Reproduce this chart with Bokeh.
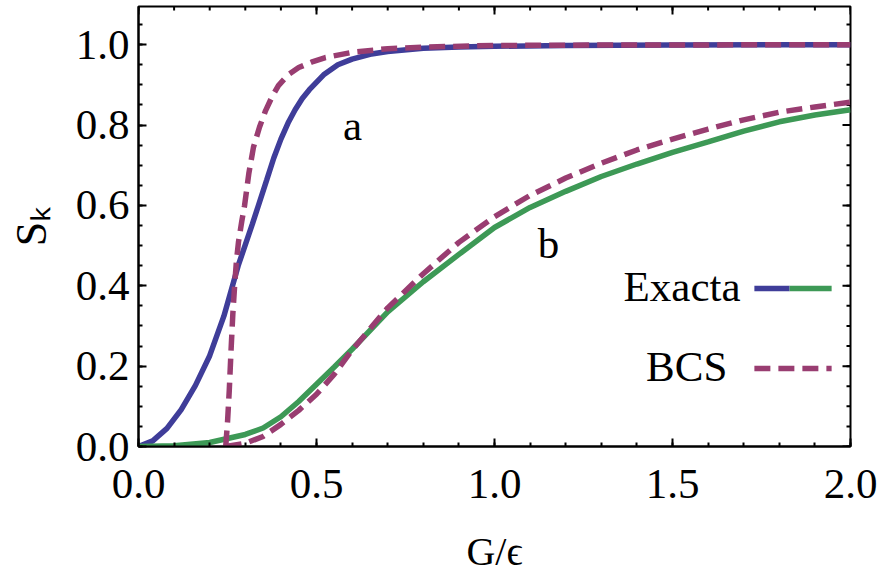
import math
from bokeh.plotting import figure
from bokeh.models import Range1d, FixedTicker, Label, NumeralTickFormatter
from bokeh.embed import file_html
from bokeh.resources import INLINE

# ---- data ----
g_exact_a = [0, 0.04, 0.08, 0.12, 0.16, 0.2, 0.24, 0.28, 0.32, 0.36, 0.38, 0.4, 0.42, 0.44, 0.46,
             0.48, 0.52, 0.56, 0.6, 0.65, 0.7, 0.8, 0.9, 1.0, 1.2, 1.5, 2.0]
s_exact_a = [0, 0.014, 0.045, 0.092, 0.152, 0.226, 0.325, 0.45, 0.554, 0.663, 0.718, 0.765, 0.805,
             0.838, 0.866, 0.888, 0.925, 0.95, 0.964, 0.976, 0.983, 0.991, 0.994, 0.996, 0.998,
             0.999, 1.0]

g_bcs_a = [0.245, 0.25, 0.255, 0.26, 0.265, 0.27, 0.275, 0.281, 0.29, 0.298, 0.31, 0.323, 0.34,
           0.357, 0.375, 0.393, 0.42, 0.45, 0.49, 0.525, 0.6, 0.7, 0.8, 1.0, 1.3, 2.0]
s_bcs_a = [0, 0.06, 0.14, 0.24, 0.33, 0.40, 0.46, 0.51, 0.56, 0.60, 0.68, 0.745, 0.795,
           0.836, 0.87, 0.898, 0.925, 0.943, 0.958, 0.968, 0.981, 0.99, 0.994, 0.998, 0.999, 1.0]

g_exact_b = [0, 0.1, 0.2, 0.3, 0.35, 0.4, 0.45, 0.5, 0.55, 0.6, 0.7, 0.8, 0.9, 1.0, 1.1,
             1.2, 1.3, 1.4, 1.5, 1.6, 1.7, 1.8, 1.9, 2.0]
s_exact_b = [0, 0.002, 0.01, 0.03, 0.046, 0.074, 0.112, 0.155, 0.198, 0.242, 0.335, 0.41, 0.478,
             0.545, 0.595, 0.635, 0.672, 0.703, 0.732, 0.758, 0.785, 0.808, 0.825, 0.838]

g_bcs_b = [0.245, 0.3, 0.35, 0.4, 0.45, 0.5, 0.55, 0.6, 0.7, 0.8, 0.9, 1.0, 1.1, 1.2, 1.3,
           1.4, 1.5, 1.6, 1.7, 1.8, 1.9, 2.0]
s_bcs_b = [0, 0.008, 0.025, 0.055, 0.09, 0.13, 0.18, 0.24, 0.345, 0.43, 0.508, 0.572, 0.625,
           0.668, 0.705, 0.738, 0.765, 0.79, 0.813, 0.832, 0.845, 0.857]

x_major = [0.0, 0.5, 1.0, 1.5, 2.0]
x_minor = [0.0, 0.1, 0.2, 0.3, 0.4, 0.5, 0.6, 0.7, 0.8, 0.9, 1.0, 1.1, 1.2, 1.3, 1.4, 1.5,
           1.6, 1.7, 1.8, 1.9, 2.0]
y_major = [0.0, 0.2, 0.4, 0.6, 0.8, 1.0]
y_minor = [0.0, 0.05, 0.1, 0.15, 0.2, 0.25, 0.3, 0.35, 0.4, 0.45, 0.5, 0.55, 0.6, 0.65, 0.7,
           0.75, 0.8, 0.85, 0.9, 0.95, 1.0, 1.05]

legend_labels = ["Exacta", "BCS"]
x_title = "G/ϵ"
y_title = "Sₖ"

BLUE = "#3f3d99"
PURPLE = "#993d71"
GREEN = "#3d9956"
FONT = "Liberation Serif"
DASH = "16 8"
LW = 5.5
X_MAX = 2.0
Y_MAX = 1.095

p = figure(width=882, height=579, x_range=Range1d(0, X_MAX), y_range=Range1d(0, Y_MAX),
           output_backend="svg", toolbar_location=None,
           min_border_left=138, min_border_right=32, min_border_top=6, min_border_bottom=133)
p.grid.visible = False
p.outline_line_color = "black"
p.outline_line_width = 2
p.background_fill_color = "white"
p.border_fill_color = "white"

bx = p.xaxis[0]
ly = p.yaxis[0]
bx.ticker = FixedTicker(ticks=x_major, minor_ticks=x_minor)
ly.ticker = FixedTicker(ticks=y_major, minor_ticks=y_minor)
bx.formatter = NumeralTickFormatter(format="0.0")
ly.formatter = NumeralTickFormatter(format="0.0")

for ax in [bx, ly]:
    ax.axis_line_width = 2
    ax.axis_line_color = "black"
    ax.major_tick_in = 8
    ax.major_tick_out = 0
    ax.minor_tick_in = 4
    ax.minor_tick_out = 0
    ax.major_tick_line_width = 2
    ax.minor_tick_line_width = 2
    ax.major_label_text_font = FONT
    ax.major_label_text_font_size = "43px"
    ax.major_label_text_color = "black"
    ax.axis_label_text_font = FONT
    ax.axis_label_text_font_style = "normal"
    ax.axis_label_text_color = "black"

bx.axis_label_text_font_size = "40px"
ly.axis_label_text_font_size = "44px"
bx.major_label_standoff = 23
ly.major_label_standoff = 9
bx.axis_label = x_title
ly.axis_label = y_title
bx.axis_label_standoff = 28
ly.axis_label_standoff = 17

# mirrored inward ticks on the top and right edges
p.ray(x=x_minor, y=[Y_MAX] * len(x_minor), length=4, angle=-math.pi / 2,
      length_units="screen", line_color="black", line_width=2)
p.ray(x=x_major, y=[Y_MAX] * len(x_major), length=8, angle=-math.pi / 2,
      length_units="screen", line_color="black", line_width=2)
p.ray(x=[X_MAX] * len(y_minor), y=y_minor, length=4, angle=math.pi,
      length_units="screen", line_color="black", line_width=2)
p.ray(x=[X_MAX] * len(y_major), y=y_major, length=8, angle=math.pi,
      length_units="screen", line_color="black", line_width=2)

# curves
p.line(g_exact_a, s_exact_a, line_color=BLUE, line_width=LW)
p.line(g_exact_b, s_exact_b, line_color=GREEN, line_width=LW)
p.line(g_bcs_a, s_bcs_a, line_color=PURPLE, line_width=LW, line_dash=DASH)
p.line(g_bcs_b, s_bcs_b, line_color=PURPLE, line_width=LW, line_dash=DASH)

# curve labels
p.add_layout(Label(x=0.601, y=0.80, text="a", text_align="center", text_baseline="alphabetic",
                   text_font=FONT, text_font_size="43px", text_color="black"))
p.add_layout(Label(x=1.152, y=0.505, text="b", text_align="center", text_baseline="alphabetic",
                   text_font=FONT, text_font_size="43px", text_color="black"))

# legend (inside plot, label left of sample)
leg_x0, leg_xm, leg_x1 = 1.73, 1.829, 1.947
leg_y = [0.393, 0.194]
p.line([leg_x0, leg_xm], [leg_y[0], leg_y[0]], line_color=BLUE, line_width=LW)
p.line([leg_xm, leg_x1], [leg_y[0], leg_y[0]], line_color=GREEN, line_width=LW)
p.line([leg_x0, leg_x1], [leg_y[1], leg_y[1]], line_color=PURPLE, line_width=LW, line_dash=DASH)
p.add_layout(Label(x=1.691, y=0.398, text=legend_labels[0], text_align="right",
                   text_baseline="alphabetic", text_font=FONT, text_font_size="43px",
                   text_color="black"))
p.add_layout(Label(x=1.654, y=0.198, text=legend_labels[1], text_align="right",
                   text_baseline="alphabetic", text_font=FONT, text_font_size="43px",
                   text_color="black"))

open("out.html", "w").write(file_html(p, INLINE))
